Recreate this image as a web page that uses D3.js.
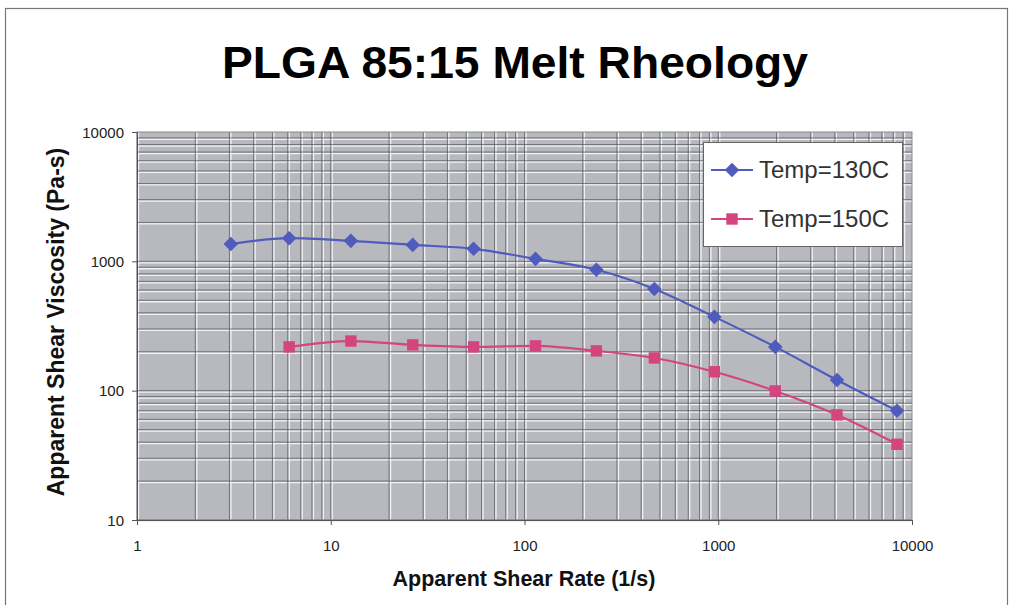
<!DOCTYPE html>
<html><head><meta charset="utf-8">
<script src="https://cdn.jsdelivr.net/npm/d3@7"></script>
<style>body{margin:0;background:#fff;}svg{display:block;font-family:"Liberation Sans",Arial,sans-serif;}</style>
</head><body><svg id="c" width="1011" height="605"></svg>
<script>
const title = "PLGA 85:15 Melt Rheology";
const xLabel = "Apparent Shear Rate (1/s)";
const yLabel = "Apparent Shear Viscosity (Pa-s)";
const seriesNames = ["Temp=130C", "Temp=150C"];
const rate130 = [3.05, 6.1, 12.7, 26.5, 54.6, 114, 235, 468, 955, 1970, 4100, 8370];
const visc130 = [1360, 1510, 1440, 1340, 1250, 1045, 860, 612, 372, 218, 121, 70];
const rate150 = [6.1, 12.7, 26.5, 54.6, 114, 235, 468, 955, 1970, 4100, 8370];
const visc150 = [218, 242, 226, 218, 222, 203, 179, 140, 99.5, 65, 38.5];
const xTicks = [1, 10, 100, 1000, 10000];
const yTicks = [10, 100, 1000, 10000];
const colors = ["#4f5bbd", "#d4457f"];

const svg = d3.select("#c");
svg.append("rect").attr("x",5.5).attr("y",8.5).attr("width",1002).attr("height",640)
  .attr("fill","none").attr("stroke","#777").attr("stroke-width",1.2);

const L=137, R=912, T=132, B=520;
const x = d3.scaleLog().domain([1,10000]).range([L,R]);
const y = d3.scaleLog().domain([10,10000]).range([B,T]);

svg.append("rect").attr("x",L).attr("y",T).attr("width",R-L).attr("height",B-T).attr("fill","#b7b9bf");

const xMinor=[], yMinor=[];
for (let d=1; d<10000; d*=10) for (let k=1;k<10;k++) xMinor.push(d*k);
for (let d=10; d<10000; d*=10) for (let k=1;k<10;k++) yMinor.push(d*k);
const g = svg.append("g");
g.selectAll(".xw").data(xMinor).join("line").attr("x1",d=>x(d)+1.5).attr("x2",d=>x(d)+1.5).attr("y1",T).attr("y2",B)
  .attr("stroke","#f2f3f6").attr("stroke-width",1.3);
g.selectAll(".yw").data(yMinor).join("line").attr("y1",d=>y(d)+1.5).attr("y2",d=>y(d)+1.5).attr("x1",L).attr("x2",R)
  .attr("stroke","#f2f3f6").attr("stroke-width",1.3);
g.selectAll(".xg").data(xMinor).join("line").attr("x1",d=>x(d)).attr("x2",d=>x(d)).attr("y1",T).attr("y2",B)
  .attr("stroke","#4a4a52").attr("stroke-width",0.9).attr("opacity",0.7);
g.selectAll(".yg").data(yMinor).join("line").attr("y1",d=>y(d)).attr("y2",d=>y(d)).attr("x1",L).attr("x2",R)
  .attr("stroke","#4a4a52").attr("stroke-width",0.9).attr("opacity",0.7);
svg.append("rect").attr("x",L).attr("y",T).attr("width",R-L).attr("height",B-T).attr("fill","none")
  .attr("stroke","#8a8a90").attr("stroke-width",1);

const xAxis = d3.axisBottom(x).tickValues(xTicks).tickFormat(d3.format("d")).tickSize(5).tickPadding(15);
const yAxis = d3.axisLeft(y).tickValues(yTicks).tickFormat(d3.format("d")).tickSize(5).tickPadding(8);
const gx = svg.append("g").attr("transform",`translate(0,${B})`).call(xAxis);
const gy = svg.append("g").attr("transform",`translate(${L},0)`).call(yAxis);
[gx,gy].forEach(a=>{
  a.select(".domain").attr("stroke","#555");
  a.selectAll(".tick line").attr("stroke","#555");
  a.selectAll("text").attr("font-size",15).attr("fill","#222").attr("font-family","Liberation Sans, Arial, sans-serif");
});
gy.selectAll("text").attr("dy","0.35em");

const line = d3.line().x(d=>x(d[0])).y(d=>y(d[1])).curve(d3.curveMonotoneX);
const s130 = rate130.map((r,i)=>[r,visc130[i]]);
const s150 = rate150.map((r,i)=>[r,visc150[i]]);
svg.append("path").datum(s130).attr("d",line).attr("fill","none").attr("stroke",colors[0]).attr("stroke-width",2.2);
svg.append("path").datum(s150).attr("d",line).attr("fill","none").attr("stroke",colors[1]).attr("stroke-width",2.2);
const diamond = d3.symbol().type(d3.symbolDiamond2).size(135);
const square = d3.symbol().type(d3.symbolSquare).size(130);
svg.selectAll(".m1").data(s130).join("path").attr("d",diamond)
  .attr("transform",d=>`translate(${x(d[0])},${y(d[1])})`).attr("fill",colors[0]);
svg.selectAll(".m2").data(s150).join("path").attr("d",square)
  .attr("transform",d=>`translate(${x(d[0])},${y(d[1])})`).attr("fill",colors[1]);

const lg = svg.append("g");
lg.append("rect").attr("x",703.5).attr("y",142.5).attr("width",199).attr("height",104).attr("fill","#fff")
  .attr("stroke","#666").attr("stroke-width",1);
const legY=[170,219];
seriesNames.forEach((n,i)=>{
  lg.append("line").attr("x1",711).attr("x2",753).attr("y1",legY[i]).attr("y2",legY[i]).attr("stroke",colors[i]).attr("stroke-width",2.2);
  lg.append("path").attr("d",i===0?diamond:square).attr("transform",`translate(732,${legY[i]})`).attr("fill",colors[i]);
  lg.append("text").attr("x",759).attr("y",legY[i]).attr("dy","0.35em").attr("font-size",24).attr("fill","#333").text(n);
});

svg.append("text").attr("x",515).attr("y",78).attr("text-anchor","middle").attr("font-size",45).attr("font-weight","bold")
  .attr("textLength",586).attr("lengthAdjust","spacingAndGlyphs").attr("fill","#000").text(title);
svg.append("text").attr("x",524).attr("y",586).attr("text-anchor","middle").attr("font-size",21.5).attr("font-weight","bold")
  .attr("fill","#111").text(xLabel);
svg.append("text").attr("transform","translate(64,322) rotate(-90)").attr("text-anchor","middle").attr("font-size",23)
  .attr("font-weight","bold").attr("fill","#111").text(yLabel);
</script></body></html>
